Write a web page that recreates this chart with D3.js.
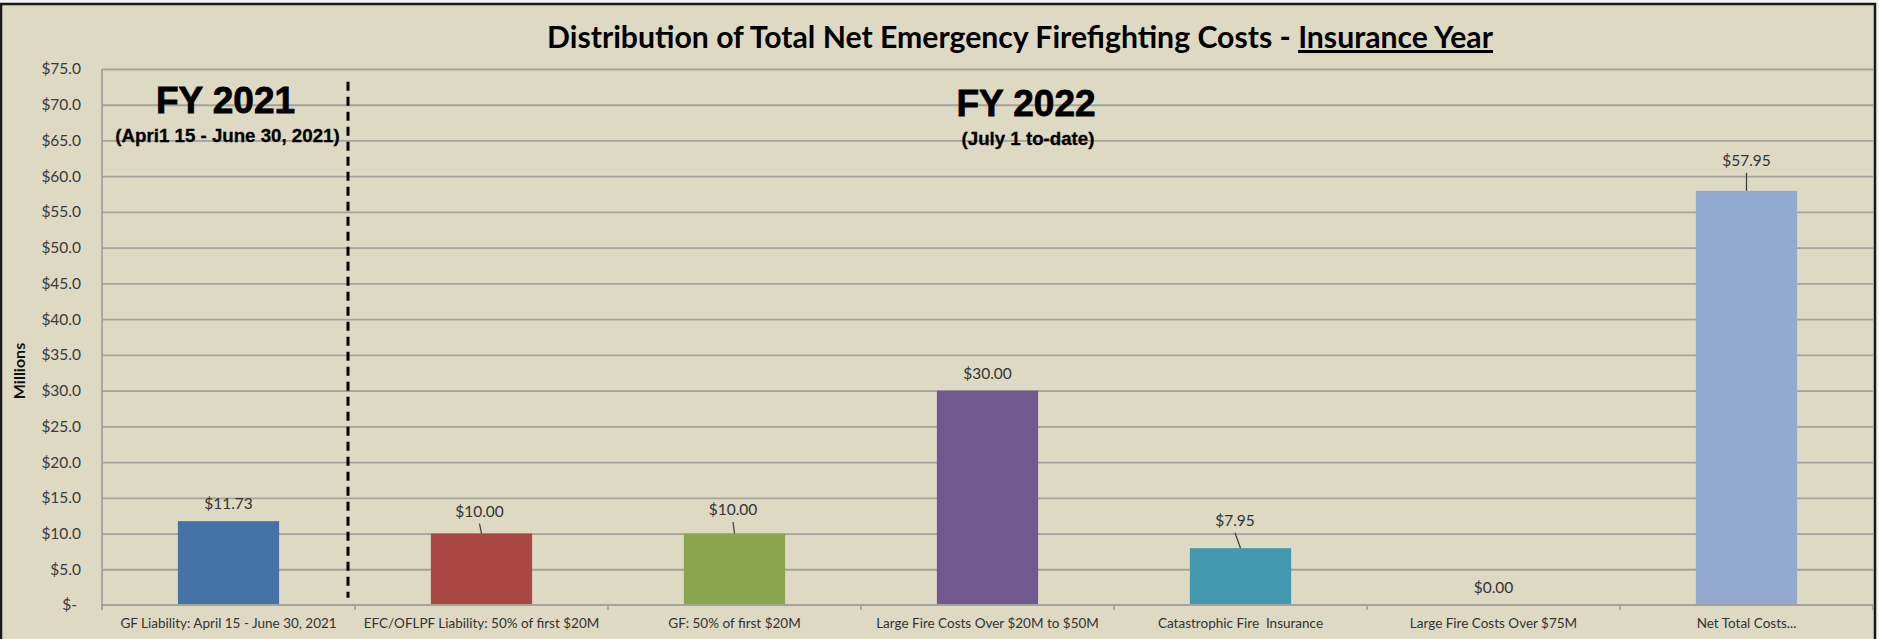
<!DOCTYPE html>
<html>
<head>
<meta charset="utf-8">
<script src="https://cdn.jsdelivr.net/npm/d3@7/dist/d3.min.js"></script>
<style>
  html, body { margin: 0; padding: 0; background: #f3f3f3; }
  svg { display: block; font-family: Lato, "Open Sans", sans-serif; }
  .heading { font-family: "Liberation Sans", Arial, sans-serif; font-weight: 700; }
  .tick text { white-space: pre; }
</style>
</head>
<body>
<svg id="chart" width="1879" height="639"></svg>
<script>
// Cost categories along the x axis
const categories = [
  "GF Liability: April 15 - June 30, 2021",
  "EFC/OFLPF Liability: 50% of first $20M",
  "GF: 50% of first $20M",
  "Large Fire Costs Over $20M to $50M",
  "Catastrophic Fire  Insurance",
  "Large Fire Costs Over $75M",
  "Net Total Costs..."
];

// Cost in millions of dollars for each category
const costs = [11.73, 10.00, 10.00, 30.00, 7.95, 0.00, 57.95];

// Fill for each bar
const barColors = ["#4572A7", "#AA4643", "#89A54E", "#71588F", "#4198AF", "#DB843D", "#93A9CF"];

// Value axis ticks (millions)
const yTickValues = [0, 5, 10, 15, 20, 25, 30, 35, 40, 45, 50, 55, 60, 65, 70, 75];

// Period headings
const periodTitles = ["FY 2021", "FY 2022"];
const periodSubtitles = ["(Apri1 15 - June 30, 2021)", "(July 1 to-date)"];

// ---------------------------------------------------------------
const W = 1879, H = 639;
const plot = { left: 102, right: 1873, top: 69, bottom: 605 };

const svg = d3.select("#chart");

// chart area with dark frame
svg.append("rect")
  .attr("x", 1).attr("y", 4)
  .attr("width", 1874).attr("height", H + 10)
  .attr("fill", "#DDD9C3")
  .attr("stroke", "#1a1a1a")
  .attr("stroke-width", 2.5);

const x = d3.scaleBand()
  .domain(categories)
  .range([plot.left, plot.right])
  .paddingInner(0.6)
  .paddingOuter(0.3);

const y = d3.scaleLinear()
  .domain([0, 75])
  .range([plot.bottom, plot.top]);

// horizontal gridlines
svg.append("g")
  .attr("transform", `translate(${plot.left},0)`)
  .call(d3.axisLeft(y).tickValues(yTickValues.filter(v => v > 0))
    .tickSize(-(plot.right - plot.left)).tickFormat(""))
  .call(g => g.select(".domain").remove())
  .call(g => g.selectAll(".tick line").attr("stroke", "#A3A29B").attr("stroke-width", 1.8));

// value axis labels
const fmtMoney = v => v === 0 ? "$-" : "$" + d3.format(".1f")(v);
const yAxis = svg.append("g")
  .attr("transform", `translate(${plot.left},0)`)
  .call(d3.axisLeft(y).tickValues(yTickValues).tickSize(0).tickPadding(21).tickFormat(fmtMoney));
yAxis.select(".domain").remove();
yAxis.selectAll(".tick text")
  .style("font-family", "Lato, sans-serif")
  .attr("font-size", 15.5)
  .attr("fill", "#3a3a3a")
  .attr("dx", d => d === 0 ? -4 : 0);

// vertical axis line (extends down to the category tick length)
svg.append("line")
  .attr("x1", plot.left).attr("x2", plot.left)
  .attr("y1", y(75)).attr("y2", plot.bottom + 5)
  .attr("stroke", "#A3A29B").attr("stroke-width", 1.8);

// y axis title
svg.append("text")
  .attr("transform", `translate(25,${(y(75) + y(0)) / 2 + 34}) rotate(-90)`)
  .attr("text-anchor", "middle")
  .attr("font-size", 16)
  .attr("font-weight", 700)
  .attr("fill", "#111")
  .text("Millions");

// bars
svg.append("g").selectAll("rect")
  .data(categories)
  .join("rect")
  .attr("x", d => x(d))
  .attr("width", x.bandwidth())
  .attr("y", (d, i) => y(costs[i]))
  .attr("height", (d, i) => y(0) - y(costs[i]))
  .attr("fill", (d, i) => barColors[i]);

// category axis: baseline, boundary ticks and labels
const step = x.step();
const edge = (step - x.bandwidth()) / 2;
const bounds = categories.map(c => x(c) - edge).concat([x(categories[categories.length - 1]) + x.bandwidth() + edge]);

svg.append("line")
  .attr("x1", plot.left).attr("x2", bounds[bounds.length - 1])
  .attr("y1", y(0)).attr("y2", y(0))
  .attr("stroke", "#A3A29B").attr("stroke-width", 1.8);

svg.append("g").selectAll("line")
  .data(bounds)
  .join("line")
  .attr("x1", d => d).attr("x2", d => d)
  .attr("y1", y(0)).attr("y2", y(0) + 5)
  .attr("stroke", "#A3A29B").attr("stroke-width", 1.8);

const xAxis = svg.append("g")
  .attr("transform", `translate(0,${y(0)})`)
  .call(d3.axisBottom(x).tickSize(0).tickPadding(13));
xAxis.select(".domain").remove();
xAxis.selectAll(".tick text")
  .style("font-family", "Lato, sans-serif")
  .attr("font-size", 13.5)
  .attr("fill", "#333");

// data labels; some are lifted clear of the bar and tied back with a leader line
const labelShift = [[0, 0], [-2, -5], [-1.5, -6.5], [0, 0], [-5.5, -10.5], [0, 0], [0, -13]];
const fmtLabel = v => "$" + d3.format(".2f")(v);
const labels = svg.append("g");
categories.forEach((c, i) => {
  const cx = x(c) + x.bandwidth() / 2;
  const top = y(costs[i]);
  const [dx, dy] = labelShift[i];
  const lx = cx + dx, ly = top - 12 + dy;
  labels.append("text")
    .attr("x", lx).attr("y", ly)
    .attr("text-anchor", "middle")
    .attr("font-size", 15.5)
    .attr("fill", "#333")
    .text(fmtLabel(costs[i]));
  if (dy !== 0) {
    labels.append("line")
      .attr("x1", lx).attr("y1", ly + 7)
      .attr("x2", cx).attr("y2", top)
      .attr("stroke", "#3a3a3a").attr("stroke-width", 1.2);
  }
});

// dashed divider between the two fiscal years
const divX = bounds[1] - 7;
svg.append("line")
  .attr("x1", divX).attr("x2", divX)
  .attr("y1", y(73.2)).attr("y2", y(1))
  .attr("stroke", "#000")
  .attr("stroke-width", 3)
  .attr("stroke-dasharray", "9,6");

// fiscal year headings
const headX = [x(categories[0]) + x.bandwidth() / 2 - 3, 1026];
const headY = [113, 116];
periodTitles.forEach((t, i) => {
  svg.append("text")
    .attr("class", "heading")
    .attr("x", headX[i]).attr("y", headY[i])
    .attr("text-anchor", "middle")
    .attr("font-size", 37)
    .attr("fill", "#000")
    .attr("stroke", "#000")
    .attr("stroke-width", 0.8)
    .text(t);
  svg.append("text")
    .attr("class", "heading")
    .attr("x", headX[i] + 2).attr("y", headY[i] + 29)
    .attr("text-anchor", "middle")
    .attr("font-size", 18.7)
    .attr("fill", "#000")
    .attr("stroke", "#000")
    .attr("stroke-width", 0.3)
    .text(periodSubtitles[i]);
});

// chart title
const title = svg.append("text")
  .attr("x", 1020).attr("y", 48)
  .attr("text-anchor", "middle")
  .attr("font-size", 30.2)
  .attr("font-weight", 700)
  .attr("fill", "#000");
title.append("tspan").text("Distribution of Total Net Emergency Firefighting Costs - ");
title.append("tspan").style("text-decoration", "underline").text("Insurance Year");
</script>
</body>
</html>
